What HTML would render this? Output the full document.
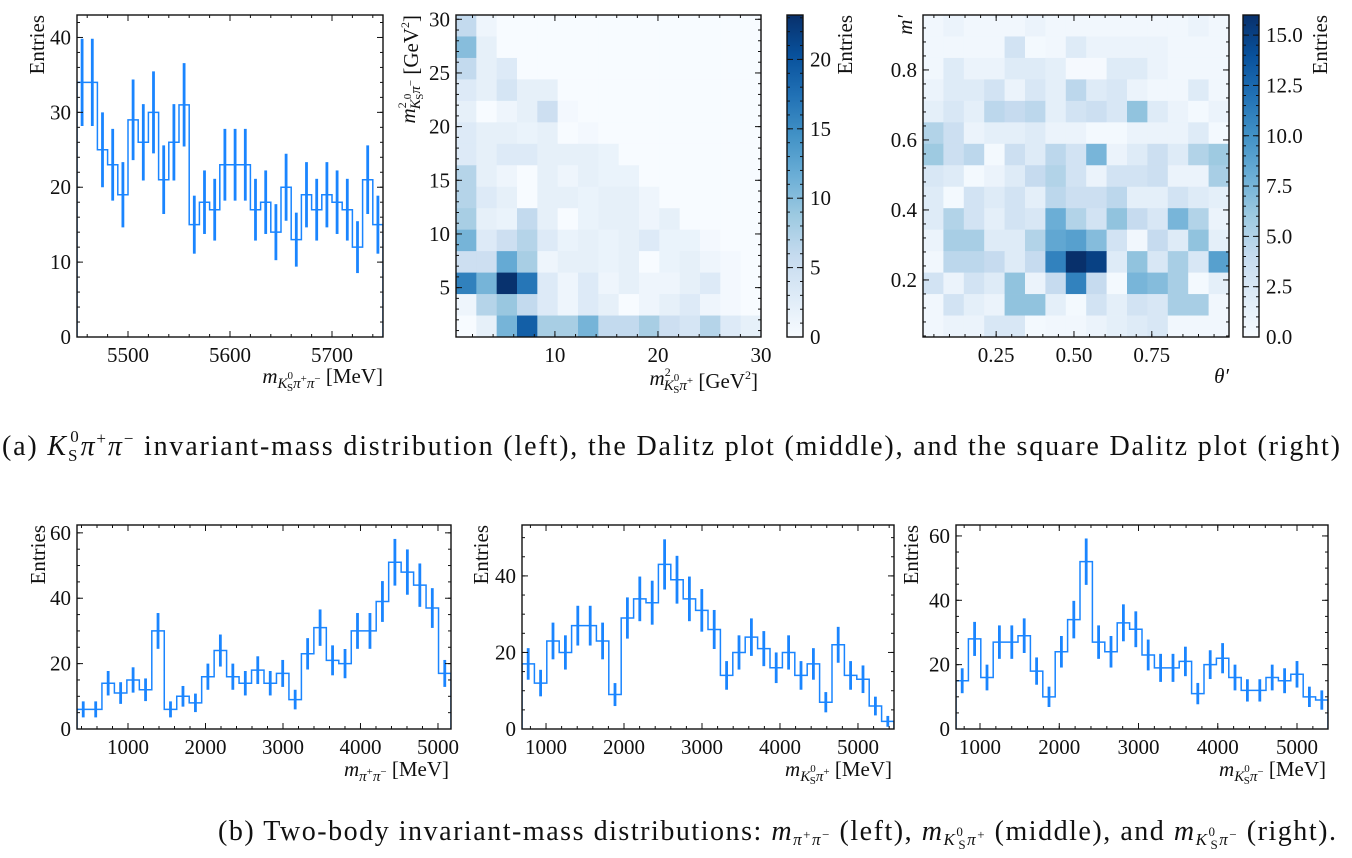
<!DOCTYPE html>
<html><head><meta charset="utf-8">
<style>
html,body{margin:0;padding:0;background:#fff;}
svg{display:block;font-family:"Liberation Serif",serif;}
.t{font-size:21px;fill:#111;}
.cap{font-size:28px;fill:#111;}
</style></head>
<body>
<svg id="fig" width="1352" height="858" viewBox="0 0 1352 858" xmlns="http://www.w3.org/2000/svg">
<g id="layer"></g>
<text class="cap" x="2" y="455" textLength="1338" lengthAdjust="spacing">(a) <tspan font-style="italic">K</tspan><tspan font-size="17" dy="6">S</tspan><tspan font-size="17" dx="-9" dy="-19">0</tspan><tspan dy="13" font-style="italic">π</tspan><tspan font-size="17" dy="-11">+</tspan><tspan dy="11" font-style="italic">π</tspan><tspan font-size="17" dy="-11">−</tspan><tspan dy="11"> invariant-mass distribution (left), the Dalitz plot (middle), and the square Dalitz plot (right)</tspan></text>
<text class="cap" x="218" y="840" textLength="1118" lengthAdjust="spacing">(b) Two-body invariant-mass distributions: <tspan font-style="italic">m</tspan><tspan font-size="17" dy="5" font-style="italic">π</tspan><tspan font-size="13" dy="-6">+</tspan><tspan font-size="17" dy="6" font-style="italic">π</tspan><tspan font-size="13" dy="-6">−</tspan><tspan dy="1"> (left), </tspan><tspan font-style="italic">m</tspan><tspan font-size="17" dy="5" font-style="italic">K</tspan><tspan font-size="13" dy="-9">0</tspan><tspan font-size="13" dx="-6" dy="13">S</tspan><tspan font-size="17" dy="-4" font-style="italic">π</tspan><tspan font-size="13" dy="-6">+</tspan><tspan dy="1"> (middle), and </tspan><tspan font-style="italic">m</tspan><tspan font-size="17" dy="5" font-style="italic">K</tspan><tspan font-size="13" dy="-9">0</tspan><tspan font-size="13" dx="-6" dy="13">S</tspan><tspan font-size="17" dy="-4" font-style="italic">π</tspan><tspan font-size="13" dy="-6">−</tspan><tspan dy="1"> (right).</tspan></text>
</svg>
<script>
// ---------- data ----------
const massValues = [34,34,25,23,19,29,26,30,21,26,31,15,18,17,23,23,23,17,18,14,20,13,19,17,19,18,17,12,21,15];
const pipiValues = [6,6,14,11,15,12,30,6,10,8,16,24,16,14,18,14,17,9,23,31,21,20,30,30,39,51,48,44,37,17];
const kspipValues = [17,12,23,20,27,27,23,9,29,34,33,43,39,34,31,26,14,20,24,21,16,20,14,17,7,22,14,13,6,2];
const kspimValues = [15,28,16,27,27,29,18,10,24,34,52,27,24,33,31,23,19,19,21,11,20,22,16,12,12,16,15,17,10,9];
const massTicks = [5500,5600,5700];
const pipiTicks = [1000,2000,3000,4000,5000];
const kspTicks = [1000,2000,3000,4000,5000];
// Dalitz cells, rows top (high y) -> bottom
const dalitzCells = [
[6,1,0,0,0,0,0,0,0,0,0,0,0,0,0],
[10,2,0,0,0,0,0,0,0,0,0,0,0,0,0],
[6,2,3,0,0,0,0,0,0,0,0,0,0,0,0],
[3,2,4,2,2,0,0,0,0,0,0,0,0,0,0],
[2,0,1,2,5,0.5,0,0,0,0,0,0,0,0,0],
[3,2,2,1.5,2,0,0.5,0,0,0,0,0,0,0,0],
[3,2,3,3,2,2,2,1.5,0,0,0,0,0,0,0],
[7,2,1,0,2,1,2,1.5,1.5,0,0,0,0,0,0],
[7,3,2,0,2,2,1.5,2,2,1,0,0,0,0,0],
[8,2,1.5,6,2,0,1.5,2,2,1,2,0,0,0,0],
[11,3,5,7,3,1.5,2,1.5,2,3,1.5,1.5,0.5,0,0],
[5,5,12,8,1,2,2,1.5,2,0,1.5,2,1,0.5,0],
[16,11,23,17,3,1,3,1,2,1,1,2,3,0.5,0],
[1,7,9,6,3,1,3,2,0,1,2,3,1,0.5,0],
[0,2,11,19,8,8,11,6,6,8,5,4,7,3,2]];
const squareCells = [
[0.5,1,0.5,0.5,0.5,1,0.5,0.5,0.5,0.5,0.5,0.5,0.5,1,0.5],
[0.5,0.5,0.5,0.5,3,0.3,0.5,2,1,1,1,1,0.5,0.5,0.5],
[0.5,2,1,1,2,2,1.5,0.2,0.2,2,2,1,0.5,0.5,0.5],
[1,2,2,3,1,2.5,1.5,4.5,2,2.5,1,0.5,0.5,2,0.5],
[1.5,2.5,1.5,4.5,4,4.5,1.5,3,3.5,2.5,6.5,2,1,0.3,1],
[5,3.5,1,1.5,1.5,2,1,1,0.3,0.3,1,1,1,2,0.3],
[6,3.5,4.5,0.3,3.5,2,4.5,3,7.5,1,2,3.5,2,5,6],
[2.5,2,0.3,1,2,4,5,3,1,3,3,3.5,1,1,5.5],
[2,0.3,3,2,3,1.5,4.5,3.5,3.5,4.5,1.5,1.5,3,2,1.5],
[2,5,3,1.5,3,2.5,8,5,3,6.5,4,2.5,7.5,5,1],
[1,5.5,5.5,2,2,5,8.5,9,7,3,0.5,4,2,6.5,1.5],
[0.5,4.5,4.5,4,2,4,11,16,15,2,6.5,2.5,5.5,2.5,9],
[3,1,3,2,6.5,1,4,11,4,0.3,7.5,7,5.5,0.3,1.5],
[0.5,3,1.5,1,6.5,6.5,1.5,0.3,3,1.5,3,2.5,5.5,5.5,0.5],
[0.5,1,1,2.5,2.5,0.3,0.5,0.5,1,1.5,2,2.5,0.5,0.5,0.5]];

// ---------- helpers ----------
const NS='http://www.w3.org/2000/svg';
const L=document.getElementById('layer');
function mk(tag,attrs,parent){const e=document.createElementNS(NS,tag);for(const k in attrs)e.setAttribute(k,attrs[k]);(parent||L).appendChild(e);return e;}
const BLUES=['#f7fbff','#deebf7','#c6dbef','#9ecae1','#6baed6','#4292c6','#2171b5','#08519c','#08306b'];
function blues(t){t=Math.max(0,Math.min(1,t));const p=t*8,i=Math.min(7,Math.floor(p)),f=p-i;
 const a=BLUES[i],b=BLUES[i+1];const c=[1,3,5].map(k=>Math.round(parseInt(a.substr(k,2),16)*(1-f)+parseInt(b.substr(k,2),16)*f));
 return 'rgb('+c.join(',')+')';}
function ticksAxis(g,x0,x1,y0,y1,xmin,xmax,ymin,ymax,xmaj,xmin_,ymaj,ymin_,xfmt,yfmt){
 const sx=v=>x0+(v-xmin)/(xmax-xmin)*(x1-x0), sy=v=>y1-(v-ymin)/(ymax-ymin)*(y1-y0);
 const st={stroke:'#111','stroke-width':1};
 function loop(step,start,end,cb){const n=Math.ceil((start-1e-9)/step);for(let k=n;k*step<=end+1e-9;k++)cb(+(k*step).toFixed(6));}
 loop(xmin_,xmin,xmax,v=>{const x=sx(v);mk('line',Object.assign({x1:x,x2:x,y1:y1,y2:y1-3},st),g);mk('line',Object.assign({x1:x,x2:x,y1:y0,y2:y0+3},st),g);});
 loop(ymin_,ymin,ymax,v=>{const y=sy(v);mk('line',Object.assign({x1:x0,x2:x0+3,y1:y,y2:y},st),g);mk('line',Object.assign({x1:x1,x2:x1-3,y1:y,y2:y},st),g);});
 loop(xmaj,xmin,xmax,v=>{const x=sx(v);mk('line',Object.assign({x1:x,x2:x,y1:y1,y2:y1-6},st),g);mk('line',Object.assign({x1:x,x2:x,y1:y0,y2:y0+6},st),g);
   if(xfmt){const t=mk('text',{x:x,y:y1+25,'text-anchor':'middle',class:'t'},g);t.textContent=xfmt(v);}});
 loop(ymaj,ymin,ymax,v=>{const y=sy(v);mk('line',Object.assign({x1:x0,x2:x0+6,y1:y,y2:y},st),g);mk('line',Object.assign({x1:x1,x2:x1-6,y1:y,y2:y},st),g);
   if(yfmt){const t=mk('text',{x:x0-6,y:y+7,'text-anchor':'end',class:'t'},g);t.textContent=yfmt(v);}});
 mk('rect',{x:x0,y:y0,width:x1-x0,height:y1-y0,fill:'none',stroke:'#111','stroke-width':1.4},g);
 return {sx,sy};
}
function hist(name,vals,x0,x1,y0,y1,xmin,xmax,ymax,xmaj,xmn,ymaj,ymn,xt){
 const g=mk('g',{});
 
 
 const sx=v=>x0+(v-xmin)/(xmax-xmin)*(x1-x0), sy=v=>y1-v/ymax*(y1-y0);
 const bw=(xmax-xmin)/vals.length;
 let d='M'+sx(xmin)+','+sy(0);
 vals.forEach((v,i)=>{d+=' L'+sx(xmin+i*bw)+','+sy(v)+' L'+sx(xmin+(i+1)*bw)+','+sy(v);});
 d+=' L'+sx(xmax)+','+sy(0);
 const clip='c'+name;const cp=mk('clipPath',{id:clip},g);mk('rect',{x:x0,y:y0,width:x1-x0,height:y1-y0},cp);
 const step=mk('path',{d:d,fill:'none',stroke:'#1a85ff','stroke-width':1.5,'clip-path':'url(#'+clip+')'},g);
 
 
 vals.forEach((v,i)=>{const xc=sx(xmin+(i+0.5)*bw),e=Math.sqrt(v);
   const ln=mk('line',{x1:xc,x2:xc,y1:sy(Math.max(0,v-e)),y2:sy(v+e),stroke:'#1a85ff','stroke-width':2.8,'clip-path':'url(#'+clip+')'},g);
   
   });
 ticksAxis(g,x0,x1,y0,y1,xmin,xmax,0,ymax,xmaj,xmn,ymaj,ymn,v=>xt.includes(v)?String(v):'',v=>String(v));
 return g;
}
function heat(name,cells,x0,x1,y0,y1,vmax){
 const g=mk('g',{});
 
 
 const nr=cells.length,nc=cells[0].length,cw=(x1-x0)/nc,ch=(y1-y0)/nr;
 cells.forEach((row,r)=>row.forEach((v,c)=>{
   const rc=mk('rect',{x:x0+c*cw,y:y0+r*ch,width:cw+0.4,height:ch+0.4,fill:blues(v/vmax)},g);
   
   }));
 return g;
}
function colorbar(name,x0,x1,y0,y1,vmax,maj,mn,fmt){
 const g=mk('g',{});
 
 
 const gid='grad'+name;const gr=mk('linearGradient',{id:gid,x1:0,y1:1,x2:0,y2:0},g);
 for(let i=0;i<=8;i++)mk('stop',{offset:i/8,'stop-color':BLUES[i]},gr);
 mk('rect',{x:x0,y:y0,width:x1-x0,height:y1-y0,fill:'url(#'+gid+')'},g);
 const sy=v=>y1-v/vmax*(y1-y0);
 for(let v=0;v<=vmax+1e-9;v+=mn){const y=sy(v);mk('line',{x1:x1,x2:x1-3,y1:y,y2:y,stroke:'#111'},g);mk('line',{x1:x0,x2:x0+3,y1:y,y2:y,stroke:'#111'},g);}
 for(let v=0;v<=vmax+1e-9;v+=maj){const y=sy(v);mk('line',{x1:x1,x2:x1-6,y1:y,y2:y,stroke:'#111'},g);mk('line',{x1:x0,x2:x0+6,y1:y,y2:y,stroke:'#111'},g);
   const t=mk('text',{x:x1+7,y:y+7,class:'t'},g);t.textContent=fmt(v);}
 mk('rect',{x:x0,y:y0,width:x1-x0,height:y1-y0,fill:'none',stroke:'#111','stroke-width':1.4},g);
}
function label(name,html,x,y,anchor,rot){
 const t=mk('text',{x:x,y:y,'text-anchor':anchor,class:'t',transform:rot?'rotate(-90 '+x+' '+y+')':''});
 
 
 t.innerHTML=html;
}
const KS=(s)=>'<tspan font-style="italic">m</tspan><tspan font-size="15" dy="5" font-style="italic">K</tspan><tspan font-size="11" dy="-9">0</tspan><tspan font-size="11" dx="-6" dy="12">S</tspan><tspan font-size="15" dy="-3" font-style="italic">π</tspan>'+s;

// ---------- top-left mass histogram ----------
hist('mass-histogram',massValues,77,383,15,337,5450,5750,43,100,20,10,2,massTicks);
label('mass-y-title','Entries',44,15,'end',true);
label('mass-x-title',KS('<tspan font-size="11" dy="-6">+</tspan><tspan font-size="15" dy="6" font-style="italic">π</tspan><tspan font-size="11" dy="-6">−</tspan><tspan dy="1"> [MeV]</tspan>'),383,383,'end',false);

// ---------- Dalitz ----------
heat('dalitz-heatmap',dalitzCells,456,761,15,337,23.2);
ticksAxis(mk('g',{}),456,761,15,337,0.4,30,0.4,30.4,10,2,5,1,v=>String(v),v=>String(v));
colorbar('dalitz-colorbar',787,803,15,337,23.2,5,1,v=>String(v));
label('dalitz-colorbar-title','Entries',852,15,'end',true);
label('dalitz-x-title','<tspan font-style="italic">m</tspan><tspan font-size="12" dy="-9">2</tspan><tspan font-size="15" dx="-7" dy="14" font-style="italic">K</tspan><tspan font-size="11" dy="-9">0</tspan><tspan font-size="11" dx="-6" dy="12">S</tspan><tspan font-size="15" dy="-3" font-style="italic">π</tspan><tspan font-size="11" dy="-6">+</tspan><tspan dy="4"> [GeV</tspan><tspan font-size="12" dy="-9">2</tspan><tspan dy="9">]</tspan>',758,385,'end',false);
label('dalitz-y-title','<tspan font-style="italic">m</tspan><tspan font-size="12" dy="-9">2</tspan><tspan font-size="15" dx="-7" dy="14" font-style="italic">K</tspan><tspan font-size="11" dy="-9">0</tspan><tspan font-size="11" dx="-6" dy="12">S</tspan><tspan font-size="15" dy="-3" font-style="italic">π</tspan><tspan font-size="11" dy="-6">−</tspan><tspan dy="4"> [GeV</tspan><tspan font-size="12" dy="-9">2</tspan><tspan dy="9">]</tspan>',415,15,'end',true);

// ---------- square Dalitz ----------
heat('square-dalitz-heatmap',squareCells,923,1229,15,337,16);
ticksAxis(mk('g',{}),923,1229,15,337,0.015,0.998,0.037,0.957,0.25,0.05,0.2,0.04,v=>v.toFixed(2),v=>v.toFixed(1));
colorbar('square-colorbar',1243,1259,15,337,16,2.5,0.5,v=>v.toFixed(1));
label('square-colorbar-title','Entries',1327,15,'end',true);
label('square-x-title','<tspan font-style="italic">θ′</tspan>',1229,383,'end',false);
label('square-y-title','<tspan font-style="italic">m′</tspan>',912,15,'end',true);

// ---------- bottom histograms ----------
hist('pipi-histogram',pipiValues,77,451,525,729,342,5168,62.4,1000,200,20,5,pipiTicks);
label('pipi-y-title','Entries',45,525,'end',true);
label('pipi-x-title','<tspan font-style="italic">m</tspan><tspan font-size="15" dy="5" font-style="italic">π</tspan><tspan font-size="11" dy="-6">+</tspan><tspan font-size="15" dy="6" font-style="italic">π</tspan><tspan font-size="11" dy="-6">−</tspan><tspan dy="1"> [MeV]</tspan>',449,776,'end',false);

hist('kspip-histogram',kspipValues,522,894,525,729,692,5462,53.3,1000,200,20,5,kspTicks);
label('kspip-y-title','Entries',488,525,'end',true);
label('kspip-x-title',KS('<tspan font-size="11" dy="-6">+</tspan><tspan dy="1"> [MeV]</tspan>'),892,776,'end',false);

hist('kspim-histogram',kspimValues,956,1328,525,729,697,5391,63.4,1000,200,20,5,kspTicks);
label('kspim-y-title','Entries',918,525,'end',true);
label('kspim-x-title',KS('<tspan font-size="11" dy="-6">−</tspan><tspan dy="1"> [MeV]</tspan>'),1326,776,'end',false);
</script>
</body></html>
